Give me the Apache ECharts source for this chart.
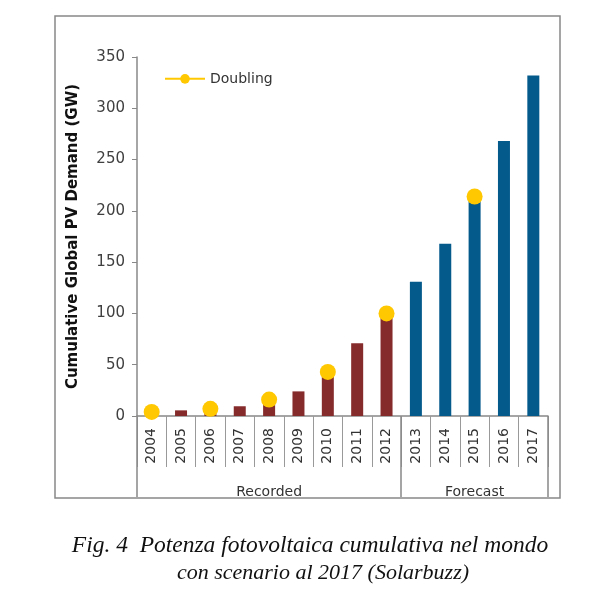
<!DOCTYPE html>
<html>
<head>
    <title>PV Demand</title>
    <script src="https://cdn.jsdelivr.net/npm/echarts@6/dist/echarts.min.js"></script>
    <style>
        html, body { margin: 0; padding: 0; background: #fff; }
        #grafico { width: 598px; height: 598px; }
    </style>
</head>
<body>
    <div id="grafico"></div>
    <script>
        // Datos
        const years = ['2004', '2005', '2006', '2007', '2008', '2009', '2010',
                       '2011', '2012', '2013', '2014', '2015', '2016', '2017'];
        const recorded = [4, 5.5, 7, 9.5, 15, 24, 40, 71, 100, null, null, null, null, null];
        const forecast = [null, null, null, null, null, null, null, null, null, 131, 168, 210, 268, 332];
        const doubling = [4, null, 7, null, 16, null, 43, null, 100, null, null, 214, null, null];
        const groups = ['', '', '', '', 'Recorded', '', '', '', '', '', '', 'Forecast', '', ''];
        const groupStarts = [0, 9];

        const grafico = echarts.init(document.getElementById('grafico'));
        const font = 'DejaVu Sans';

        grafico.setOption({
            animation: false,
            grid: { left: 137, right: 50, top: 57, bottom: 182 },
            legend: {
                data: ['Doubling'],
                left: 159, top: 60,
                itemWidth: 40, itemHeight: 12,
                textStyle: { fontFamily: font, fontSize: 14, color: '#333' }
            },
            xAxis: [{
                type: 'category',
                data: years,
                axisLine: { show: true, lineStyle: { color: '#888', width: 1.5 } },
                axisTick: { show: true, interval: 0, length: 51, lineStyle: { color: '#999', width: 1 } },
                axisLabel: {
                    interval: 0, rotate: 90, margin: 12,
                    fontFamily: font, fontSize: 14, color: '#333'
                }
            }, {
                type: 'category',
                data: groups,
                position: 'bottom',
                axisLine: { show: false },
                axisTick: {
                    show: true,
                    length: 81,
                    interval: function (i) { return groupStarts.indexOf(i) >= 0; },
                    lineStyle: { color: '#888', width: 1.5 }
                },
                axisLabel: {
                    interval: 0, margin: 62,
                    fontFamily: font, fontSize: 14, color: '#333'
                }
            }],
            yAxis: {
                type: 'value',
                min: 0, max: 350, interval: 50,
                name: 'Cumulative Global PV Demand (GW)',
                nameLocation: 'middle',
                nameGap: 48,
                nameMoveOverlap: false,
                nameTextStyle: { fontFamily: font, fontWeight: 'bold', fontSize: 15, color: '#111' },
                axisLine: { show: true, lineStyle: { color: '#888', width: 1.5 } },
                axisTick: { show: true, length: 5, lineStyle: { color: '#888' } },
                splitLine: { show: false },
                axisLabel: { margin: 12, fontFamily: font, fontSize: 15, color: '#404040' }
            },
            series: [{
                name: 'Recorded',
                type: 'bar',
                data: recorded,
                barWidth: 12,
                barGap: '-100%',
                itemStyle: { color: '#862B2B' }
            }, {
                name: 'Forecast',
                type: 'bar',
                data: forecast,
                barWidth: 12,
                itemStyle: { color: '#055A8C' }
            }, {
                name: 'Doubling',
                type: 'line',
                data: doubling,
                symbol: 'circle',
                symbolSize: 16,
                z: 5,
                itemStyle: { color: '#FFC800' },
                lineStyle: { color: '#FFC800', width: 4 }
            }],
            graphic: [{
                type: 'rect',
                shape: { x: 55, y: 16, width: 505, height: 482 },
                style: { fill: 'none', stroke: '#888', lineWidth: 1.5 }
            }, {
                type: 'text',
                x: 310, y: 546,
                style: {
                    text: 'Fig. 4  Potenza fotovoltaica cumulativa nel mondo',
                    font: 'italic 23.5px "Liberation Serif"',
                    fill: '#111', align: 'center', verticalAlign: 'middle'
                }
            }, {
                type: 'text',
                x: 323, y: 573,
                style: {
                    text: 'con scenario al 2017 (Solarbuzz)',
                    font: 'italic 22px "Liberation Serif"',
                    fill: '#111', align: 'center', verticalAlign: 'middle'
                }
            }]
        });
    </script>
</body>
</html>
